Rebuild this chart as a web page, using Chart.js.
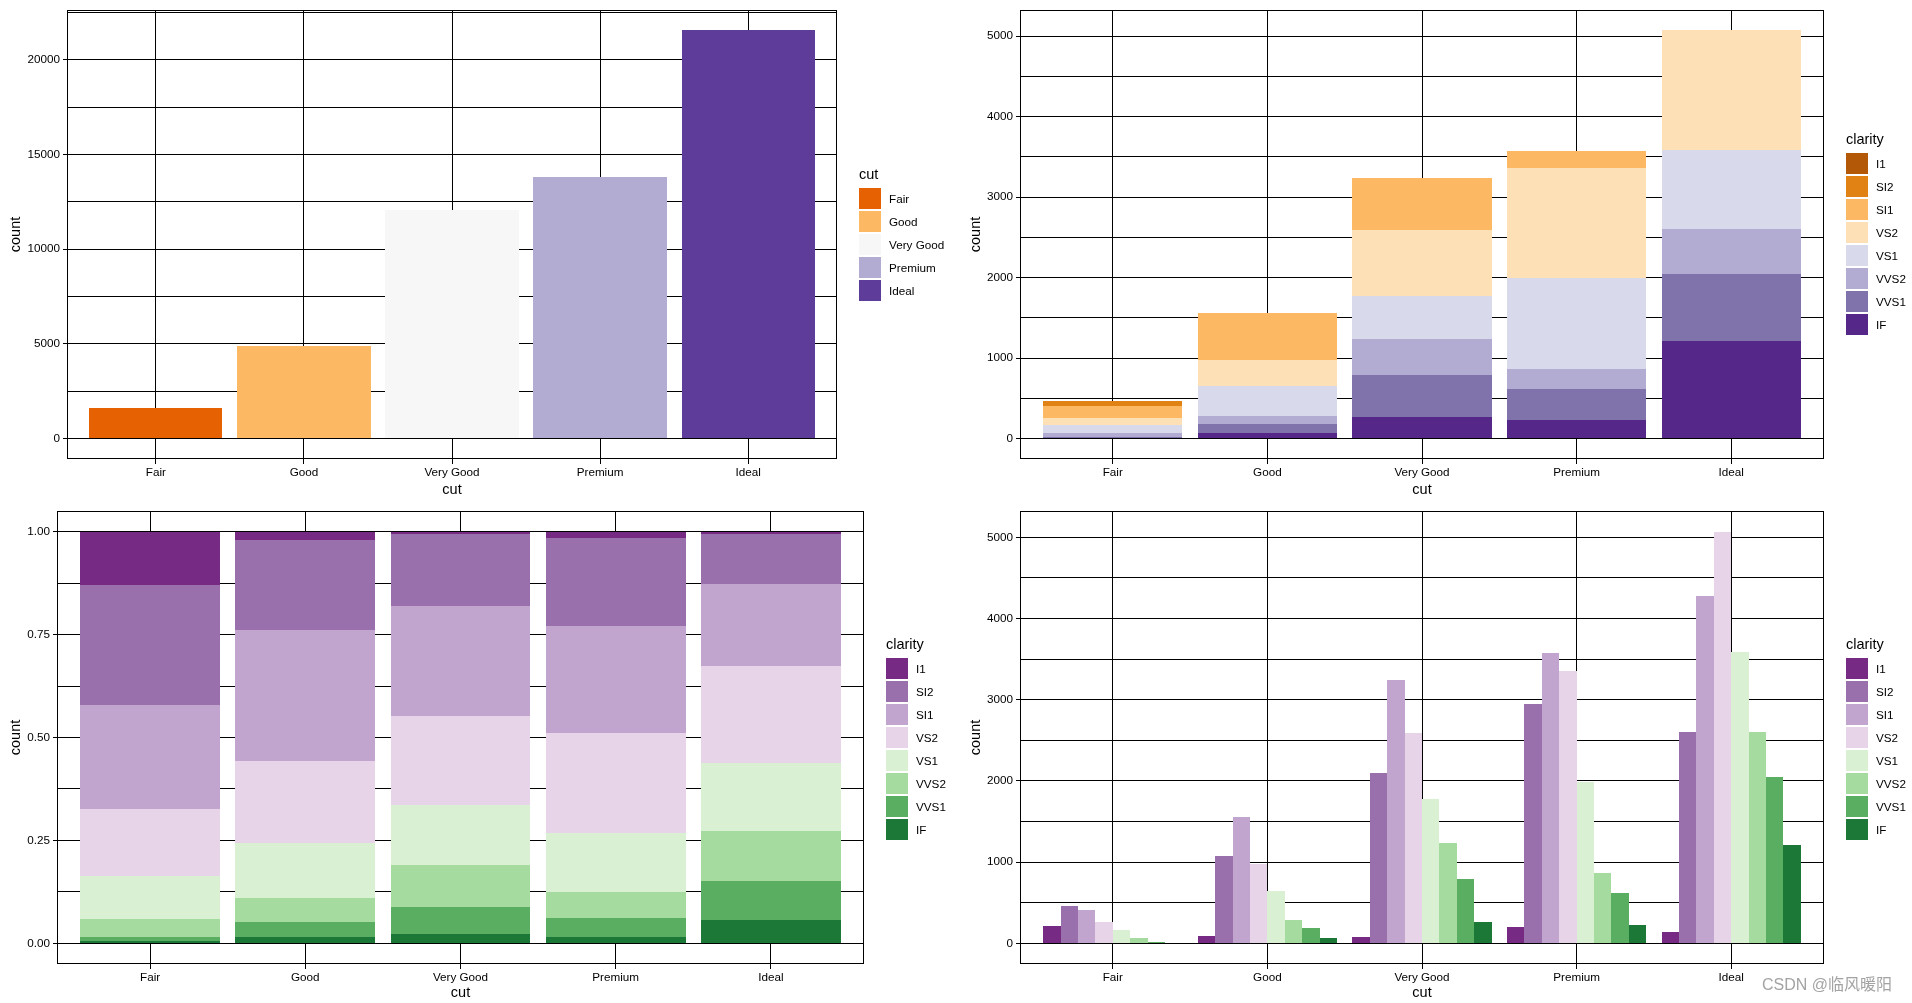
<!DOCTYPE html>
<html><head><meta charset="utf-8">
<script src="https://cdn.jsdelivr.net/npm/chart.js@4/dist/chart.umd.min.js"></script>
<style>
html,body{margin:0;padding:0;background:#fff;width:1912px;height:1003px;overflow:hidden;}
.box{position:absolute;}
canvas{display:block;}
.legend{position:absolute;left:0;top:0;font-family:"Liberation Sans",Arial,sans-serif;color:#000;}
.legend .t{position:absolute;font-size:14.5px;line-height:16px;white-space:nowrap;}
.legend .k{position:absolute;width:22px;height:21px;}
.legend .l{position:absolute;font-size:11.7px;line-height:14px;white-space:nowrap;}
.wm{position:absolute;left:1762px;top:975px;font-family:"Liberation Sans","Noto Sans CJK SC",sans-serif;font-size:16px;line-height:20px;color:#a3a3a3;white-space:nowrap;}
</style></head><body>
<div class="box" style="left:0;top:0;width:960px;height:500px"><canvas id="c1"></canvas></div>
<div class="box" style="left:960px;top:0;width:952px;height:500px"><canvas id="c2"></canvas></div>
<div class="box" style="left:0;top:500px;width:960px;height:503px"><canvas id="c3"></canvas></div>
<div class="box" style="left:960px;top:500px;width:952px;height:503px"><canvas id="c4"></canvas></div>
<div id="legends"></div>
<div class="wm">CSDN @临风暖阳</div>
<script>
// ---- data ----
const cuts = ['Fair', 'Good', 'Very Good', 'Premium', 'Ideal'];
const cutCounts = [1610, 4906, 12082, 13791, 21551];
const cutColors = ['#e66101', '#fdb863', '#f7f7f7', '#b2abd2', '#5e3c99'];

const clarities = ['I1', 'SI2', 'SI1', 'VS2', 'VS1', 'VVS2', 'VVS1', 'IF'];
// counts for each clarity, by cut (Fair, Good, Very Good, Premium, Ideal)
const cI1   = [210, 96, 84, 205, 146];
const cSI2  = [466, 1081, 2100, 2949, 2598];
const cSI1  = [408, 1560, 3240, 3575, 4282];
const cVS2  = [261, 978, 2591, 3357, 5071];
const cVS1  = [170, 648, 1775, 1989, 3589];
const cVVS2 = [69, 286, 1235, 870, 2606];
const cVVS1 = [17, 186, 789, 616, 2047];
const cIF   = [9, 71, 268, 230, 1212];
const clarityCounts = [cI1, cSI2, cSI1, cVS2, cVS1, cVVS2, cVVS1, cIF];

const puorColors = ['#b35806', '#e08214', '#fdb863', '#fee0b6', '#d8daeb', '#b2abd2', '#8073ac', '#542788'];
const prgnColors = ['#762a83', '#9970ab', '#c2a5cf', '#e7d4e8', '#d9f0d3', '#a6dba0', '#5aae61', '#1b7837'];

const countMajor1 = [0, 5000, 10000, 15000, 20000];
const countMinor1 = [2500, 7500, 12500, 17500, 22500];
const countMajor2 = [0, 1000, 2000, 3000, 4000, 5000];
const countMinor2 = [500, 1500, 2500, 3500, 4500];
const propMajor = [0, 0.25, 0.5, 0.75, 1];
const propMinor = [0.125, 0.375, 0.625, 0.875];

// ---- helpers ----
const FONT = '"Liberation Sans", Arial, sans-serif';
const cutTotals = cuts.map((c, j) => clarityCounts.reduce((s, arr) => s + arr[j], 0));
function expand(lo, hi) { const d = (hi - lo) * 0.05; return [lo - d, hi + d]; }

function yScale(major, minor, lim, fmt, width, stacked) {
  const all = major.concat(minor).sort((a, b) => a - b);
  return {
    type: 'linear', min: lim[0], max: lim[1], stacked: !!stacked,
    afterBuildTicks: s => { s.ticks = all.map(v => ({ value: v })); },
    afterFit: s => { s.width = width; },
    ticks: { callback: v => major.includes(v) ? fmt(v) : '', color: '#000',
             font: { family: FONT, size: 11.7 }, padding: 3, autoSkip: false },
    grid: { color: '#000', lineWidth: 1, drawTicks: true, tickLength: 4,
            tickColor: c => (c.tick && major.includes(c.tick.value)) ? '#000' : 'rgba(0,0,0,0)' },
    border: { display: false },
    title: { display: true, text: 'count', color: '#000', font: { family: FONT, size: 14.5 },
             padding: { top: 7, bottom: 0 } }
  };
}
function xScale(height, stacked) {
  return {
    type: 'category', offset: true, stacked: !!stacked,
    afterBuildTicks: s => { s._startValue = s.min - 0.6; s._valueRange = s.ticks.length + 0.2; },
    afterFit: s => { s.height = height; },
    grid: { offset: false, color: '#000', lineWidth: 1, drawTicks: true, tickLength: 5, tickColor: '#000' },
    border: { display: false },
    ticks: { color: '#000', font: { family: FONT, size: 11.7 }, padding: 2, maxRotation: 0, autoSkip: false },
    title: { display: true, text: 'cut', color: '#000', font: { family: FONT, size: 14.5 },
             padding: { top: 0, bottom: 1 } }
  };
}
const borderPlugin = {
  id: 'panelBorder',
  afterDraw(chart) {
    const { ctx, chartArea: a } = chart;
    ctx.save();
    ctx.strokeStyle = '#000'; ctx.lineWidth = 1;
    const l = Math.round(a.left) + 0.5, t = Math.round(a.top) + 0.5;
    const r = Math.round(a.right) - 0.5, b = Math.round(a.bottom) - 0.5;
    ctx.strokeRect(l, t, r - l, b - t);
    ctx.restore();
  }
};
// snap bar rectangles (computed by the library's scales) to whole pixels for crisp edges
const snapPlugin = {
  id: 'snapBars',
  beforeDatasetsDraw(chart) {
    chart.getSortedVisibleDatasetMetas().forEach(meta => {
      meta.data.forEach(el => {
        const L = Math.round(el.x - el.width / 2), R = Math.round(el.x + el.width / 2);
        el.x = (L + R) / 2; el.width = R - L;
        el.y = Math.round(el.y); el.base = Math.round(el.base);
        el.inflateAmount = 0;
      });
    });
  }
};
function baseOptions(padding, scales) {
  return {
    responsive: true, maintainAspectRatio: false, animation: false,
    layout: { padding },
    plugins: { legend: { display: false }, tooltip: { enabled: false } },
    scales
  };
}

// ---- panel 1: count by cut ----
new Chart(document.getElementById('c1'), {
  type: 'bar',
  data: { labels: cuts, datasets: [{ label: 'cut', data: cutCounts, backgroundColor: cutColors,
          categoryPercentage: 0.9, barPercentage: 1.0, borderWidth: 0, inflateAmount: 0 }] },
  options: baseOptions({ left: 0, top: 7, right: 123, bottom: 0 }, {
    x: xScale(41),
    y: yScale(countMajor1, countMinor1, expand(0, Math.max(...cutCounts)), v => String(v), 67)
  }),
  plugins: [snapPlugin, borderPlugin]
});

// ---- panel 2: overlapping (identity) bars by clarity ----
const maxClarity = Math.max(...clarityCounts.flat());
new Chart(document.getElementById('c2'), {
  type: 'bar',
  data: { labels: cuts, datasets: clarities.map((c, i) => ({
    label: c, data: clarityCounts[i], backgroundColor: puorColors[i], order: clarities.length - 1 - i,
    grouped: false, categoryPercentage: 0.9, barPercentage: 1.0, borderWidth: 0, inflateAmount: 0 })) },
  options: baseOptions({ left: 0, top: 7, right: 88, bottom: 0 }, {
    x: xScale(41),
    y: yScale(countMajor2, countMinor2, expand(0, maxClarity), v => String(v), 60)
  }),
  plugins: [snapPlugin, borderPlugin]
});

// ---- panel 3: filled proportions ----
new Chart(document.getElementById('c3'), {
  type: 'bar',
  data: { labels: cuts, datasets: clarities.map((c, i) => ({
    label: c, data: clarityCounts[i].map((v, j) => v / cutTotals[j]), backgroundColor: prgnColors[i],
    order: clarities.length - 1 - i, categoryPercentage: 0.9, barPercentage: 1.0, borderWidth: 0, inflateAmount: 0 })) },
  options: baseOptions({ left: 0, top: 11, right: 96, bottom: 0 }, {
    x: xScale(39, true),
    y: yScale(propMajor, propMinor, expand(0, 1), v => v.toFixed(2), 57, true)
  }),
  plugins: [snapPlugin, borderPlugin]
});

// ---- panel 4: dodged bars ----
new Chart(document.getElementById('c4'), {
  type: 'bar',
  data: { labels: cuts, datasets: clarities.map((c, i) => ({
    label: c, data: clarityCounts[i], backgroundColor: prgnColors[i],
    categoryPercentage: 0.9, barPercentage: 1.0, borderWidth: 0, inflateAmount: 0 })) },
  options: baseOptions({ left: 0, top: 11, right: 88, bottom: 0 }, {
    x: xScale(39),
    y: yScale(countMajor2, countMinor2, expand(0, maxClarity), v => String(v), 60)
  }),
  plugins: [snapPlugin, borderPlugin]
});

// ---- legends ----
function legend(left, titleCY, keyTop, title, labels, colors) {
  const root = document.getElementById('legends');
  const wrap = document.createElement('div'); wrap.className = 'legend';
  const t = document.createElement('div'); t.className = 't'; t.textContent = title;
  t.style.left = left + 'px'; t.style.top = (titleCY - 8) + 'px'; wrap.appendChild(t);
  labels.forEach((lab, i) => {
    const top = keyTop + i * 23;
    const k = document.createElement('div'); k.className = 'k';
    k.style.left = left + 'px'; k.style.top = top + 'px'; k.style.background = colors[i]; wrap.appendChild(k);
    const l = document.createElement('div'); l.className = 'l'; l.textContent = lab;
    l.style.left = (left + 30) + 'px'; l.style.top = (top + 10.5 - 7) + 'px'; wrap.appendChild(l);
  });
  root.appendChild(wrap);
}
legend(859, 174, 188, 'cut', cuts, cutColors);
legend(1846, 139, 153, 'clarity', clarities, puorColors);
legend(886, 644, 658, 'clarity', clarities, prgnColors);
legend(1846, 644, 658, 'clarity', clarities, prgnColors);
</script>
</body></html>
